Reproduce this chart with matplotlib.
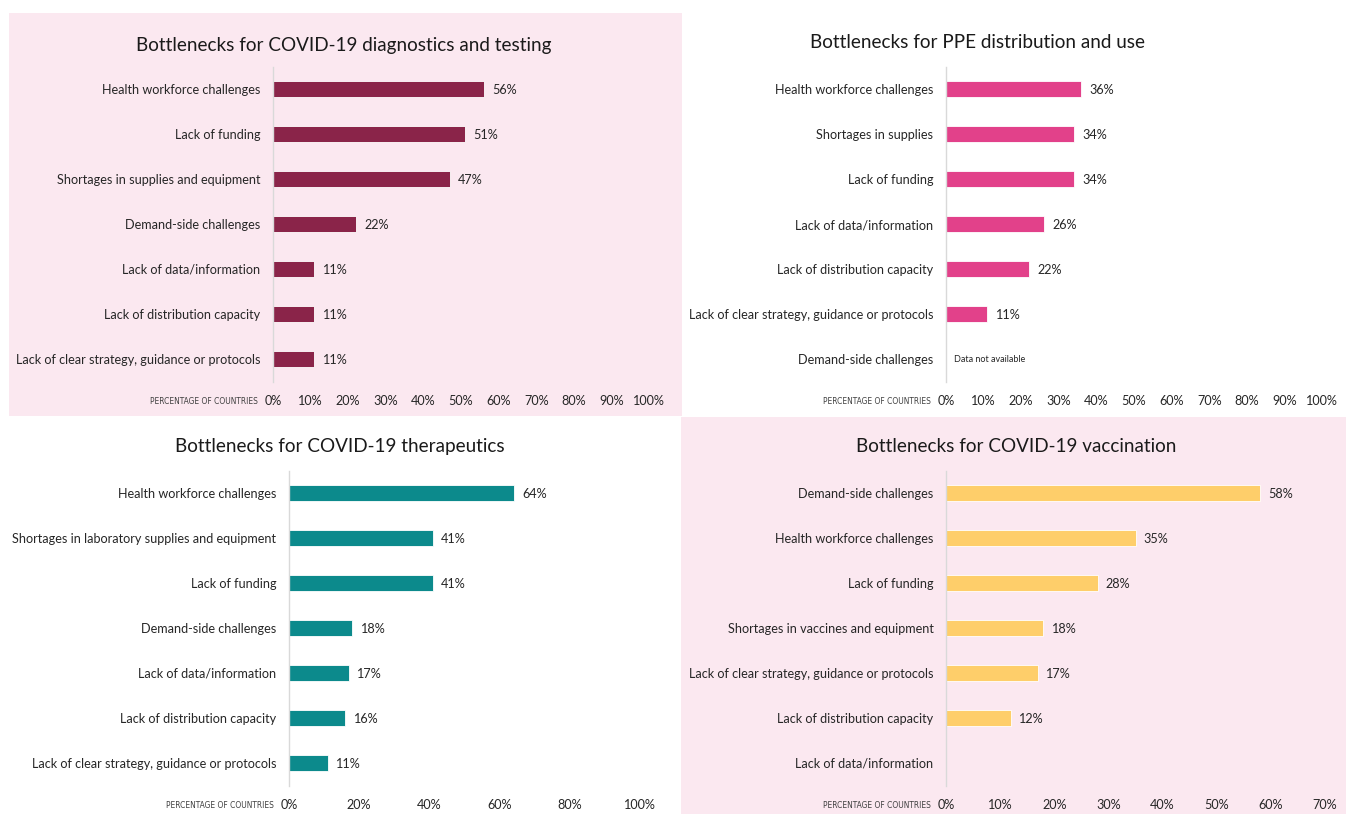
import matplotlib
matplotlib.use("Agg")
import matplotlib.pyplot as plt
from matplotlib.patches import Rectangle

plt.rcParams['font.family'] = ['Lato', 'DejaVu Sans']

W, H = 1346, 814

# ---- data ----
diag_cats = ["Health workforce challenges", "Lack of funding", "Shortages in supplies and equipment",
             "Demand-side challenges", "Lack of data/information", "Lack of distribution capacity",
             "Lack of clear strategy, guidance or protocols"]
diag_vals = [56, 51, 47, 22, 11, 11, 11]

ppe_cats = ["Health workforce challenges", "Shortages in supplies", "Lack of funding",
            "Lack of data/information", "Lack of distribution capacity",
            "Lack of clear strategy, guidance or protocols", "Demand-side challenges"]
ppe_vals = [36, 34, 34, 26, 22, 11, None]

ther_cats = ["Health workforce challenges", "Shortages in laboratory supplies and equipment", "Lack of funding",
             "Demand-side challenges", "Lack of data/information", "Lack of distribution capacity",
             "Lack of clear strategy, guidance or protocols"]
ther_vals = [64, 41, 41, 18, 17, 16, 11]

vacc_cats = ["Demand-side challenges", "Health workforce challenges", "Lack of funding",
             "Shortages in vaccines and equipment", "Lack of clear strategy, guidance or protocols",
             "Lack of distribution capacity", "Lack of data/information"]
vacc_vals = [58, 35, 28, 18, 17, 12, 0]

diag_ticks = [0, 10, 20, 30, 40, 50, 60, 70, 80, 90, 100]
ppe_ticks = [0, 10, 20, 30, 40, 50, 60, 70, 80, 90, 100]
ther_ticks = [0, 20, 40, 60, 80, 100]
vacc_ticks = [0, 10, 20, 30, 40, 50, 60, 70]

PINK_BG = "#FBE8F0"

fig = plt.figure(figsize=(W / 100, H / 100), dpi=100)
fig.patch.set_facecolor("white")

def fig_rect(x0, y0, x1, y1, color):
    fig.patches.append(Rectangle((x0 / W, 1 - y1 / H), (x1 - x0) / W, (y1 - y0) / H,
                                 transform=fig.transFigure, facecolor=color, edgecolor='none', zorder=-5))

fig_rect(9, 13, 682, 416, PINK_BG)
fig_rect(681, 417, 1346, 814, PINK_BG)

def panel(px0, px1, xmax, ptop, pbot, cats, vals, ticks, color, title, title_x, title_y):
    ax = fig.add_axes([px0 / W, 1 - pbot / H, (px1 - px0) / W, (pbot - ptop) / H])
    ax.set_facecolor('none')
    ax.set_zorder(2)
    n = len(cats)
    ys = list(range(n))
    bar_vals = [v if v is not None else 0 for v in vals]
    ax.barh(ys, bar_vals, height=0.36, color=color, edgecolor='white', linewidth=0.6, zorder=2)
    ax.set_xlim(0, xmax)
    ax.set_ylim(n - 0.5, -0.5)
    ax.set_yticks(ys)
    ax.set_yticklabels(cats, fontsize=9.1, color="#262626")
    ax.set_xticks(ticks)
    ax.set_xticklabels([f"{t}%" for t in ticks], fontsize=9.1, color="#262626")
    ax.tick_params(axis='both', length=0)
    ax.tick_params(axis='y', pad=9)
    ax.tick_params(axis='x', pad=10)
    for s in ['top', 'right', 'bottom']:
        ax.spines[s].set_visible(False)
    ax.spines['left'].set_color("#D9D9D9")
    ax.spines['left'].set_linewidth(1.0)
    for y, v in zip(ys, vals):
        if v is None:
            ax.annotate("Data not available", (0, y), xytext=(6, 0), textcoords='offset points',
                        va='center', ha='left', fontsize=6.5, color="#262626")
        elif v > 0:
            ax.annotate(f"{v}%", (v, y), xytext=(6, -1), textcoords='offset points',
                        va='center', ha='left', fontsize=9.1, color="#262626")
    fig.text((px0 - 15) / W, 1 - (pbot + 20) / H, "PERCENTAGE OF COUNTRIES", ha='right', va='center',
             fontsize=6, color="#404040", fontstretch='condensed', family=['DejaVu Sans'])
    fig.text(title_x / W, 1 - title_y / H, title, ha='center', va='center', fontsize=13.6, color="#1a1a1a")
    return ax

panel(273, 649, 100, 66.5, 381.5, diag_cats, diag_vals, diag_ticks, "#8A2449",
      "Bottlenecks for COVID-19 diagnostics and testing", 344, 45)
panel(946, 1322, 100, 66.5, 381.5, ppe_cats, ppe_vals, ppe_ticks, "#E2418A",
      "Bottlenecks for PPE distribution and use", 977, 42)
panel(289, 640, 100, 470.5, 785.5, ther_cats, ther_vals, ther_ticks, "#0C8A8C",
      "Bottlenecks for COVID-19 therapeutics", 340, 447)
panel(946, 1325, 70, 470.5, 785.5, vacc_cats, vacc_vals, vacc_ticks, "#FECE6A",
      "Bottlenecks for COVID-19 vaccination", 1016, 447)

fig.savefig("out.png", dpi=100)
